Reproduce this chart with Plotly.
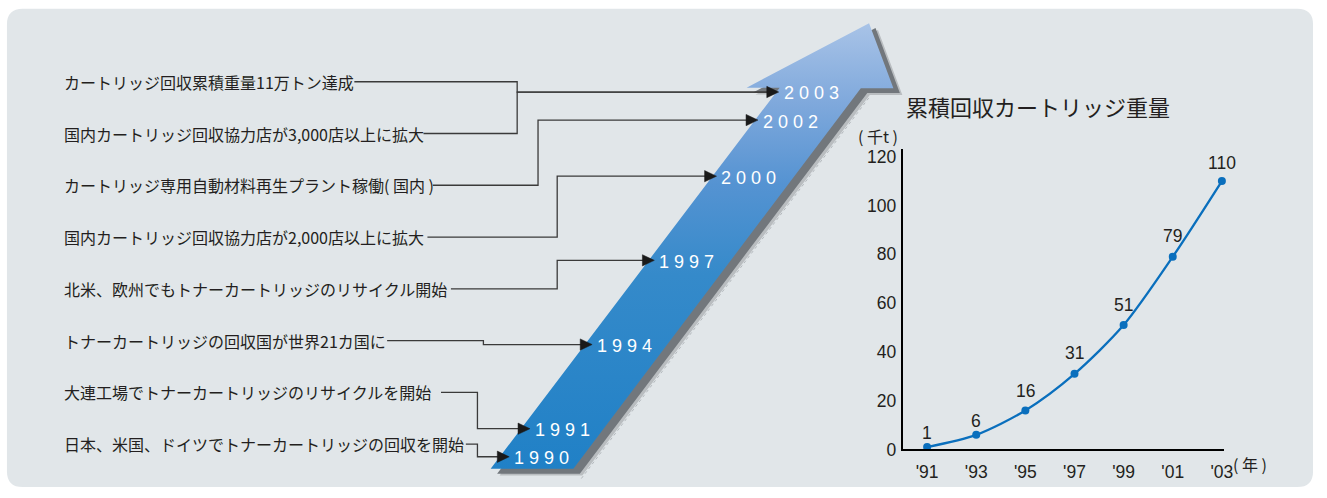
import plotly.graph_objects as go

# ---------------- data ----------------
events = [
    "カートリッジ回収累積重量11万トン達成",
    "国内カートリッジ回収協力店が3,000店以上に拡大",
    "カートリッジ専用自動材料再生プラント稼働( 国内 )",
    "国内カートリッジ回収協力店が2,000店以上に拡大",
    "北米、欧州でもトナーカートリッジのリサイクル開始",
    "トナーカートリッジの回収国が世界21カ国に",
    "大連工場でトナーカートリッジのリサイクルを開始",
    "日本、米国、ドイツでトナーカートリッジの回収を開始",
]
event_years = [2003, 2003, 2002, 2000, 1997, 1994, 1991, 1990]
milestone_years = [1990, 1991, 1994, 1997, 2000, 2002, 2003]

chart_years = [1991, 1993, 1995, 1997, 1999, 2001, 2003]
chart_values = [1, 6, 16, 31, 51, 79, 110]
x_tick_labels = ["'91", "'93", "'95", "'97", "'99", "'01", "'03"]
y_tick_values = [0, 20, 40, 60, 80, 100, 120]

chart_title = "累積回収カートリッジ重量"
y_unit = "( 千t )"
x_unit = "( 年 )"

# ---------------- layout / style ----------------
W, H = 1327, 498
BG = "#e1e6e9"
TXT = "#231f20"
JP = "Noto Sans CJK JP"
LAT = "Liberation Sans"

EV_FONT = 16
TEXT_X = 63
TEXT_Y0, TEXT_DY = 81.7, 53.05
line_gap = [4, 4, 3, 8, 7, 5, 13, 6]
elbow_x = [520.7, 520.7, 541.7, 561, 561, 486.7, 480.7, 480.7]
label_shift = [14, 14, 19, 21, 20, 21, 18]


def text_width(s, size):
    """rough advance width of a string set in Noto Sans CJK JP"""
    w = 0.0
    for ch in s:
        if ch.isdigit():
            w += 0.555
        elif ch == ",":
            w += 0.24
        elif ch in "()":
            w += 0.33
        elif ch == " ":
            w += 0.224
        else:
            w += 1.0
    return w * size


# linear scale of the timeline arrow (year -> pixel)
def arrow_x(yr):
    return 512.7 + 20.87 * (yr - 1990)


def arrow_y(yr):
    return 466.0 - 28.75 * (yr - 1990)


arrow_poly = [(494, 478.3), (577.3, 478.3), (866.7, 88.3), (899.5, 88.3),
              (875, 21.7), (751.7, 87.8), (785.0, 87.8), (494, 478.3)]

fig = go.Figure()


def poly_trace(pts, dx=0, dy=0, **kw):
    return go.Scatter(x=[None if p is None else p[0] + dx for p in pts],
                      y=[None if p is None else p[1] + dy for p in pts],
                      xaxis="x2", yaxis="y2", hoverinfo="skip", showlegend=False, **kw)


# ---------- line chart ----------
fig.add_trace(go.Scatter(
    x=chart_years, y=chart_values, mode="lines+markers",
    line=dict(color="#0a6fbd", width=2.3, shape="spline", smoothing=0.8),
    marker=dict(size=8, color="#0a6fbd"),
    showlegend=False, hoverinfo="skip", cliponaxis=False,
))

# ---------- decorations on pixel overlay ----------
dot_pts = [(585.3, 488.3), (874.7, 98.3), None, (906, 95), (883, 31.7)]
fig.add_trace(poly_trace(dot_pts, mode="lines",
                         line=dict(color="#b3b8bc", width=1, dash="dot")))
# shadows
fig.add_trace(poly_trace(arrow_poly, 9, 7, mode="lines", fill="toself",
                         fillcolor="#b9bdc0", line=dict(width=0, color="rgba(0,0,0,0)")))
fig.add_trace(poly_trace(arrow_poly, 6.5, 5, mode="lines", fill="toself",
                         fillcolor="#72777c", line=dict(width=0, color="rgba(0,0,0,0)")))
# main arrow with vertical gradient
fig.add_trace(poly_trace(arrow_poly, mode="lines", fill="toself",
                         line=dict(width=0, color="rgba(0,0,0,0)"),
                         fillgradient=dict(type="vertical", start=21.7, stop=478.3,
                                           colorscale=[[0, "#a8c3e7"], [0.17, "#80a9dc"],
                                                       [0.35, "#5593d2"], [0.55, "#358aca"],
                                                       [1, "#1f80c6"]])))

# connectors
cx, cy = [], []
for i, (ev, yr) in enumerate(zip(events, event_years)):
    ty = TEXT_Y0 + i * TEXT_DY
    start = TEXT_X + text_width(ev, EV_FONT) + line_gap[i]
    tipx, tipy = arrow_x(yr), arrow_y(yr)
    cx += [start, elbow_x[i], elbow_x[i], tipx - 10, None]
    cy += [ty, ty, tipy, tipy, None]
fig.add_trace(go.Scatter(x=cx, y=cy, mode="lines", xaxis="x2", yaxis="y2",
                         line=dict(color="#3a3a3a", width=1.3),
                         hoverinfo="skip", showlegend=False))

# arrow heads (triangles)
tx, ty_ = [], []
for yr in milestone_years:
    px, py = arrow_x(yr), arrow_y(yr)
    tx += [px - 12, px, px - 12, px - 12, None]
    ty_ += [py - 5.8, py, py + 5.8, py - 5.8, None]
fig.add_trace(go.Scatter(x=tx, y=ty_, mode="lines", fill="toself", fillcolor="#1a1a1a",
                         line=dict(color="#1a1a1a", width=0.5), xaxis="x2", yaxis="y2",
                         hoverinfo="skip", showlegend=False))

annotations = []
for i, ev in enumerate(events):
    annotations.append(dict(x=TEXT_X, y=TEXT_Y0 + i * TEXT_DY, xref="x2", yref="y2",
                            text=ev, showarrow=False, xanchor="left", yanchor="middle",
                            borderpad=0,
                            font=dict(family=JP, size=EV_FONT, color=TXT)))
for yr in milestone_years:
    annotations.append(dict(x=arrow_x(yr) + 3, y=arrow_y(yr) + 1.5, xref="x2", yref="y2",
                            text=" ".join(str(yr)), showarrow=False, xanchor="left",
                            yanchor="middle", font=dict(family=LAT, size=18, color="white")))
annotations.append(dict(x=910, y=107, xref="x2", yref="y2", text=chart_title, showarrow=False,
                        xanchor="left", yanchor="middle", font=dict(family=JP, size=22, color=TXT)))
annotations.append(dict(x=862, y=137, xref="x2", yref="y2", text=y_unit, showarrow=False,
                        xanchor="left", yanchor="middle", font=dict(family=JP, size=16, color=TXT)))
annotations.append(dict(x=1239, y=473, xref="x2", yref="y2", text=x_unit, showarrow=False,
                        xanchor="left", yanchor="middle", font=dict(family=JP, size=16, color=TXT)))
for i, (yr, v) in enumerate(zip(chart_years, chart_values)):
    annotations.append(dict(x=yr, y=v, xref="x", yref="y", text=str(v), showarrow=False,
                            xanchor="center", yanchor="middle", yshift=label_shift[i],
                            font=dict(family=LAT, size=17.5, color=TXT)))


def P(x, y):
    return f"{x / W:.5f},{1 - y / H:.5f}"


x0, y0, x1, y1, r = 7, 7, 1322, 497, 16
bg_path = (f"M {P(x0 + r, y0)} L {P(x1 - r, y0)} Q {P(x1, y0)} {P(x1, y0 + r)} "
           f"L {P(x1, y1 - r)} Q {P(x1, y1)} {P(x1 - r, y1)} "
           f"L {P(x0 + r, y1)} Q {P(x0, y1)} {P(x0, y1 - r)} "
           f"L {P(x0, y0 + r)} Q {P(x0, y0)} {P(x0 + r, y0)} Z")

fig.update_layout(
    width=W, height=H, margin=dict(l=0, r=0, t=0, b=0),
    paper_bgcolor="white", plot_bgcolor="rgba(0,0,0,0)",
    shapes=[dict(type="path", path=bg_path, xref="paper", yref="paper",
                 fillcolor=BG, line=dict(width=0), layer="below")],
    annotations=annotations,
    xaxis=dict(domain=[908.7 / W, 1232.7 / W], range=[1990.0, 2003.1],
               tickvals=chart_years, ticktext=x_tick_labels, showgrid=False, zeroline=False,
               showline=True, linecolor="black", linewidth=1.5, ticks="",
               tickfont=dict(family=LAT, size=17.5, color=TXT), ticklabelstandoff=6,
               fixedrange=True),
    yaxis=dict(domain=[(H - 458.5) / H, (H - 151) / H], range=[0, 123],
               tickvals=y_tick_values, showgrid=False, zeroline=False,
               showline=True, linecolor="black", linewidth=1.5, ticks="",
               tickfont=dict(family=LAT, size=17.5, color=TXT), ticklabelstandoff=1,
               fixedrange=True),
    xaxis2=dict(domain=[0, 1], range=[0, W], visible=False, anchor="y2", fixedrange=True),
    yaxis2=dict(domain=[0, 1], range=[H, 0], visible=False, anchor="x2", fixedrange=True),
)

fig.write_html("out.html")
